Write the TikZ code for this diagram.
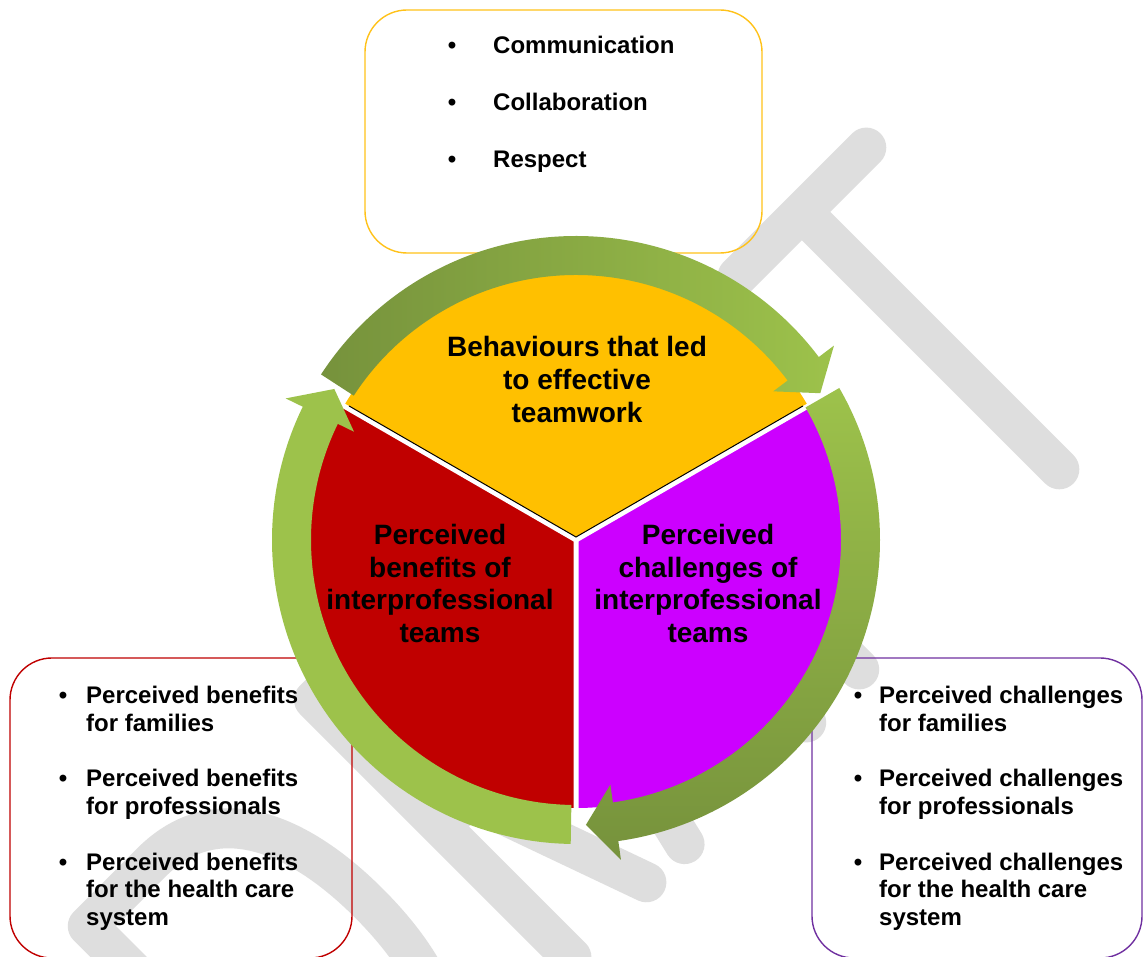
\documentclass[tikz,border=0pt]{standalone}
\usepackage{fontspec}
\setmainfont{Liberation Sans}
\definecolor{yel}{HTML}{FFC000}
\definecolor{redc}{HTML}{C00000}
\definecolor{purp}{HTML}{CC00FF}
\definecolor{glight}{HTML}{9DC24B}
\definecolor{gdark}{HTML}{76923C}
\definecolor{wmgrey}{HTML}{DEDEDE}
\definecolor{boxyel}{HTML}{FFC21A}
\definecolor{boxred}{HTML}{C00000}
\definecolor{boxpur}{HTML}{7030A0}
\begin{document}
\begin{tikzpicture}[x=1pt,y=1pt,
  wm/.style={draw=wmgrey, line width=40pt, line cap=round, line join=round},
  listbox/.style={draw, line width=1.4pt, rounded corners=42pt, inner sep=0pt},
  lbl/.style={font=\fontsize{28}{33}\selectfont\bfseries, anchor=base, inner sep=0pt},
  itm/.style={font=\fontsize{24}{27}\selectfont\bfseries, anchor=base west, inner sep=0pt},
  bul/.style={font=\fontsize{24}{27}\selectfont\bfseries, anchor=base, inner sep=0pt}]
\useasboundingbox (0,0) rectangle (1143,956);
\fill[white] (0,0) rectangle (1143,956);
% watermark DRAFT
\begin{scope}[shift={(1077,469)}, rotate=45]
  \draw[wm] (0,25)--(0,389) (-91,389)--(91,389);
  \draw[wm] (-283,25)--(-283,389)--(-140,389) (-283,215)--(-160,215);
  \draw[wm] (-530,25)--(-444,389)--(-358,25) (-505,140)--(-383,140);
  \draw[wm] (-690,25)--(-690,389)--(-640,389) .. controls (-585,389) and (-585,210) .. (-640,210) -- (-690,210) (-650,210)--(-584,25);
  \draw[wm] (-1010,25)--(-1010,389)--(-920,389) .. controls (-825,389) and (-795,300) .. (-795,207) .. controls (-795,110) and (-825,25) .. (-920,25) -- cycle;
\end{scope}
% list boxes
\node[listbox, draw=boxyel, minimum width=397pt, minimum height=243pt] (topbox) at (563.5,824.5) {};
\node[listbox, draw=boxred, minimum width=342pt, minimum height=300pt] (leftbox) at (181,148) {};
\node[listbox, draw=boxpur, minimum width=330pt, minimum height=300pt] (rightbox) at (977,148) {};
% pie
\begin{scope}[shift={(576,416)}]
  \fill[yel] (0,0) -- (30:268) arc[start angle=30, end angle=150, radius=268] -- cycle;
  \fill[redc] (0,0) -- (150:268) arc[start angle=150, end angle=270, radius=268] -- cycle;
  \fill[purp] (0,0) -- (270:268) arc[start angle=270, end angle=390, radius=268] -- cycle;
  \draw[white, line width=5pt] (0,0) -- (150:270) (0,0) -- (30:270) (0,0) -- (270:270);
  \draw[black, line width=1pt] ([shift={(0,3)}]150:262) -- (0,3) -- ([shift={(0,3)}]30:262);
  % green ring arrows
  \shade[left color=gdark, right color=glight]
    (147:304) arc[start angle=147, end angle=37, radius=304] -- (37:323) -- (31:285) -- (37:247) -- (37:265)
    arc[start angle=37, end angle=147, radius=265] -- cycle;
  \shade[top color=glight, bottom color=gdark]
    (30:304) arc[start angle=30, end angle=-82, radius=304] -- (-82:323) -- (-88:285) -- (-82:247) -- (-82:265)
    arc[start angle=-82, end angle=30, radius=265] -- cycle;
  \shade[top color=glight, middle color=gdark, bottom color=glight]
    (-91:304) arc[start angle=-91, end angle=-206, radius=304] -- (-206:323) -- (-212:285) -- (-206:247) -- (-206:265)
    arc[start angle=-206, end angle=-91, radius=265] -- cycle;
\end{scope}
% circle labels
\node[lbl] (y1) at (577,599) {Behaviours that led};
\node[lbl] (y2) at (577,566) {to effective};
\node[lbl] (y3) at (577,533) {teamwork};
\node[lbl] (r1) at (440,411) {Perceived};
\node[lbl] (r2) at (440,378.5) {benefits of};
\node[lbl] (r3) at (440,346) {interprofessional};
\node[lbl] (r4) at (440,313) {teams};
\node[lbl] (p1) at (708,411) {Perceived};
\node[lbl] (p2) at (708,378.5) {challenges of};
\node[lbl] (p3) at (708,346) {interprofessional};
\node[lbl] (p4) at (708,313) {teams};
% top list
\node[bul] (tb1) at (452,902) {•};
\node[itm] (tt1) at (493,902) {Communication};
\node[bul] (tb2) at (452,845) {•};
\node[itm] (tt2) at (493,845) {Collaboration};
\node[bul] (tb3) at (452,788) {•};
\node[itm] (tt3) at (493,788) {Respect};
% left list
\node[bul] (lb1) at (63,252) {•};
\node[itm] (lt1a) at (86,252) {Perceived benefits};
\node[itm] (lt1b) at (86,224.5) {for families};
\node[bul] (lb2) at (63,169) {•};
\node[itm] (lt2a) at (86,169) {Perceived benefits};
\node[itm] (lt2b) at (86,141.5) {for professionals};
\node[bul] (lb3) at (63,86) {•};
\node[itm] (lt3a) at (86,86) {Perceived benefits};
\node[itm] (lt3b) at (86,58.5) {for the health care};
\node[itm] (lt3c) at (86,31) {system};
% right list
\node[bul] (rb1) at (858,252) {•};
\node[itm] (rt1a) at (879,252) {Perceived challenges};
\node[itm] (rt1b) at (879,224.5) {for families};
\node[bul] (rb2) at (858,169) {•};
\node[itm] (rt2a) at (879,169) {Perceived challenges};
\node[itm] (rt2b) at (879,141.5) {for professionals};
\node[bul] (rb3) at (858,86) {•};
\node[itm] (rt3a) at (879,86) {Perceived challenges};
\node[itm] (rt3b) at (879,58.5) {for the health care};
\node[itm] (rt3c) at (879,31) {system};
\end{tikzpicture}
\end{document}
